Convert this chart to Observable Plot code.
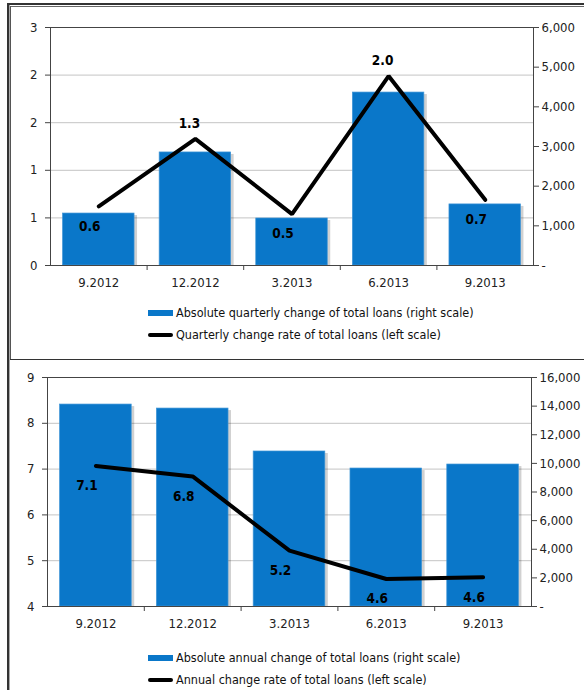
<!DOCTYPE html>
<html>
<head>
<meta charset="utf-8">
<script src="https://cdn.jsdelivr.net/npm/d3@7"></script>
<script src="https://cdn.jsdelivr.net/npm/@observablehq/plot@0.6"></script>
<style>
  html, body { margin: 0; padding: 0; background: #fff; }
  #root { position: relative; width: 584px; height: 690px; overflow: hidden; background: #fff;
          font-family: "DejaVu Sans Condensed", "DejaVu Sans", sans-serif; font-stretch: condensed; }
  .abs { position: absolute; }
  .legend { position: absolute; left: 148px; font-size: 12.5px; color: #111; line-height: 14px; }
  .row { position: absolute; left: 0; white-space: nowrap; display: flex; align-items: center; height: 14px; }
  .sw-bar { width: 25px; height: 6px; background: #0a77c9; margin-right: 3px; }
  .sw-line { width: 25px; height: 4px; background: #000; border-radius: 2px; margin-right: 3px; }
</style>
</head>
<body>
<div id="root"></div>
<script>
// ---- data ----
const categories = ["9.2012", "12.2012", "3.2013", "6.2013", "9.2013"];
// top panel
const quarterlyAbs = [1310, 2850, 1185, 4360, 1540];      // right scale
const quarterlyRate = [0.62, 1.33, 0.54, 1.99, 0.69];     // left scale, %
const topLeftTicks = [0, 0.5, 1, 1.5, 2, 2.5];
const topLeftTickLabels = ["0", "1", "1", "2", "2", "3"];
const topRightTicks = [0, 1000, 2000, 3000, 4000, 5000, 6000];
const topRightTickLabels = ["-", "1,000", "2,000", "3,000", "4,000", "5,000", "6,000"];
// bottom panel
const annualAbs = [14110, 13830, 10830, 9640, 9920];      // right scale
const annualRate = [7.07, 6.84, 5.22, 4.60, 4.64];        // left scale, %
const botLeftTicks = [4, 5, 6, 7, 8, 9];
const botLeftTickLabels = ["4", "5", "6", "7", "8", "9"];
const botRightTicks = [0, 2000, 4000, 6000, 8000, 10000, 12000, 14000, 16000];
const botRightTickLabels = ["-", "2,000", "4,000", "6,000", "8,000", "10,000", "12,000", "14,000", "16,000"];

const legendTop = ["Absolute quarterly change of total loans (right scale)", "Quarterly change rate of total loans (left scale)"];
const legendBot = ["Absolute annual change of total loans (right scale)", "Annual change rate of total loans (left scale)"];

const BLUE = "#0a77c9";
const FONT = "'DejaVu Sans', sans-serif";
const FONT_C = "'DejaVu Sans Condensed', 'DejaVu Sans', sans-serif";

function panel({abs, rate, leftTicks, leftLabels, rightTicks, rightLabels, height, mt, mb, ml, mr}) {
  const lMin = leftTicks[0], lMax = leftTicks[leftTicks.length - 1];
  const rMin = rightTicks[0], rMax = rightTicks[rightTicks.length - 1];
  const toLeft = v => lMin + (v - rMin) / (rMax - rMin) * (lMax - lMin);
  const n = categories.length;
  const rows = categories.map((c, i) => {
    const prev = i > 0 ? rate[i - 1] : null, next = i < n - 1 ? rate[i + 1] : null;
    const peak = prev !== null && next !== null && rate[i] > prev && rate[i] > next;
    return {i, c, abs: abs[i], absL: toLeft(abs[i]), rate: rate[i], peak};
  });
  const idx = categories.map((_, i) => i);
  const bounds = idx.slice(0, -1).map(i => i + 0.5);
  const near = (arr, d) => arr.findIndex(t => Math.abs(t - d) < 1e-9);
  const hw = 0.37;
  return Plot.plot({
    width: 584, height,
    marginTop: mt, marginBottom: mb, marginLeft: ml, marginRight: mr,
    style: {fontFamily: FONT, fontSize: "13px", color: "#222", background: "transparent", overflow: "visible"},
    x: {type: "linear", domain: [-0.5, n - 0.5], axis: null, label: null},
    y: {domain: [lMin, lMax], axis: null, label: null},
    marks: [
      Plot.gridY(leftTicks.slice(1, -1), {stroke: "#c4c4c4", strokeOpacity: 1}),
      Plot.rectY(rows, {x1: d => d.i - hw, x2: d => d.i + hw, y1: lMin, y2: "absL", dx: 3, dy: 2,
                        fill: "#000", fillOpacity: 0.18, clip: true}),
      Plot.rectY(rows, {x1: d => d.i - hw, x2: d => d.i + hw, y1: lMin, y2: "absL", fill: BLUE,
                        stroke: "#3f95d6", strokeWidth: 0.7}),
      Plot.frame({stroke: "#444"}),
      Plot.axisY({ticks: leftTicks, anchor: "left", tickSize: 5, tickPadding: 8, stroke: "#444", label: null,
                  tickFormat: d => leftLabels[near(leftTicks, d)]}),
      Plot.axisY({ticks: rightTicks.map(toLeft), anchor: "right", tickSize: 5, tickPadding: 3, stroke: "#444", label: null,
                  tickFormat: d => rightLabels[near(rightTicks.map(toLeft), d)]}),
      Plot.axisX({ticks: bounds, anchor: "bottom", tickSize: 5, stroke: "#444", label: null, tickFormat: () => ""}),
      Plot.axisX({ticks: idx, anchor: "bottom", tickSize: 0, tickPadding: 12, label: null, tickFormat: i => categories[i]}),
      Plot.line(rows, {x: "i", y: "rate", stroke: "#000", strokeWidth: 4, strokeLinejoin: "miter"}),
      Plot.text(rows.filter(d => d.peak), {x: "i", y: "rate", text: d => d.rate.toFixed(1), dx: -6, dy: -15,
                fontFamily: FONT_C, fontWeight: "bold", fontSize: 13.5, fill: "#000"}),
      Plot.text(rows.filter(d => !d.peak), {x: "i", y: "rate", text: d => d.rate.toFixed(1), dx: -9, dy: 20,
                fontFamily: FONT_C, fontWeight: "bold", fontSize: 13.5, fill: "#000"})
    ]
  });
}

const root = document.getElementById("root");
function place(el, left, topPx) { el.style.position = "absolute"; el.style.left = left + "px"; el.style.top = topPx + "px"; root.appendChild(el); }

const topPanel = panel({abs: quarterlyAbs, rate: quarterlyRate, leftTicks: topLeftTicks, leftLabels: topLeftTickLabels,
  rightTicks: topRightTicks, rightLabels: topRightTickLabels, height: 300, mt: 27, mb: 35, ml: 50, mr: 51});
place(topPanel, 0, 0);
const botPanel = panel({abs: annualAbs, rate: annualRate, leftTicks: botLeftTicks, leftLabels: botLeftTickLabels,
  rightTicks: botRightTicks, rightLabels: botRightTickLabels, height: 280, mt: 17, mb: 34, ml: 47, mr: 53});
place(botPanel, 0, 360);

function legend(texts, topY) {
  const lg = document.createElement("div");
  lg.className = "legend";
  lg.style.top = topY + "px";
  texts.forEach((t, k) => {
    const r = document.createElement("div");
    r.className = "row";
    r.style.top = (k * 22) + "px";
    const sw = document.createElement("span");
    sw.className = k === 0 ? "sw-bar" : "sw-line";
    const tx = document.createElement("span");
    tx.textContent = t;
    r.appendChild(sw); r.appendChild(tx);
    lg.appendChild(r);
  });
  root.appendChild(lg);
}
legend(legendTop, 306);
legend(legendBot, 651);

// panel frame lines
function line(l, t, w, h, c) { const d = document.createElement("div"); d.className = "abs";
  Object.assign(d.style, {left: l + "px", top: t + "px", width: w + "px", height: h + "px", background: c}); root.appendChild(d); }
line(7, 3, 600, 2, "#333");
line(7, 3, 2, 700, "#333");
line(9, 5, 1, 700, "#aaa");
line(10, 6, 600, 1, "#666");
line(10, 6, 1, 354, "#555");
line(10, 359, 600, 1, "#333");
</script>
</body>
</html>
